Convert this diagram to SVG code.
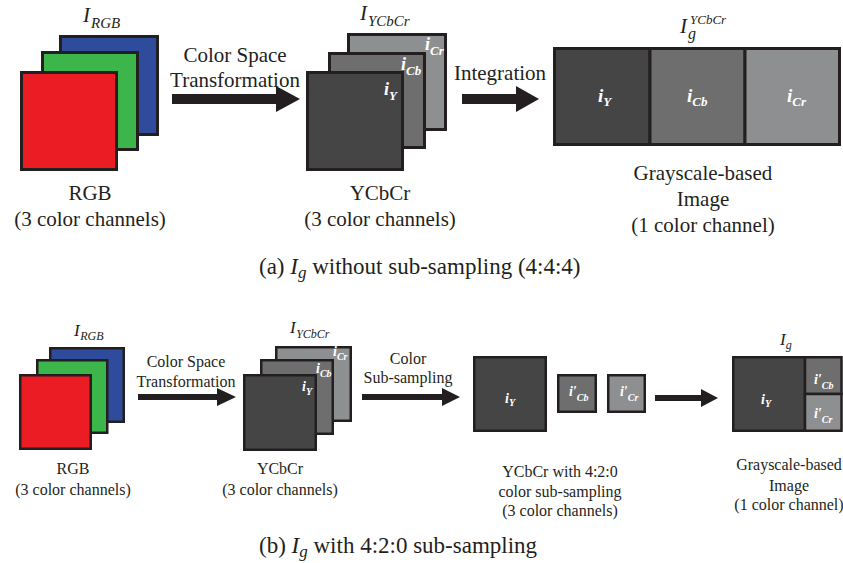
<svg xmlns="http://www.w3.org/2000/svg" width="843" height="563" viewBox="0 0 843 563" font-family="Liberation Serif, serif">
<style>
.k{stroke:#231f20;stroke-width:3}
.k2{stroke:#231f20;stroke-width:2.5}
.r{fill:#ec1c24}.g{fill:#3cb54a}.b{fill:#2e4b9c}
.d1{fill:#454546}.d2{fill:#6e6e6f}.d3{fill:#8e8f91}
.arr{fill:#231f20}
.lab{fill:#231f20;text-anchor:middle}
.mth{fill:#231f20;font-style:italic}
.wht{fill:#ffffff;font-style:italic;font-weight:bold}
.cap{fill:#231f20}
</style>

<!-- ===== (a) ===== -->
<g id="rgb-a">
  <rect class="k b" x="60.5" y="36.5" width="97" height="98"/>
  <rect class="k g" x="42.5" y="52.5" width="95" height="97"/>
  <rect class="k r" x="21.5" y="72.5" width="95" height="97"/>
  <text class="mth" x="83" y="22" font-size="21">I<tspan font-size="15" dx="1" dy="6">RGB</tspan></text>
  <text class="lab" x="90" y="200" font-size="21">RGB</text>
  <text class="lab" x="90" y="226" font-size="21">(3 color channels)</text>
</g>

<g id="ycbcr-a">
  <rect class="k d3" x="348.5" y="34.5" width="97" height="95"/>
  <rect class="k d2" x="329.5" y="53.5" width="95" height="94"/>
  <rect class="k d1" x="307.5" y="72.5" width="95" height="97"/>
  <text class="wht" x="425" y="50" font-size="18">i<tspan font-size="13" dy="5">Cr</tspan></text>
  <text class="wht" x="401" y="70" font-size="18">i<tspan font-size="13" dy="5">Cb</tspan></text>
  <text class="wht" x="384" y="95" font-size="18">i<tspan font-size="13" dy="5">Y</tspan></text>
  <text class="mth" x="360" y="20" font-size="21">I<tspan font-size="15" dx="1" dy="6">YCbCr</tspan></text>
  <text class="lab" x="380" y="200" font-size="21">YCbCr</text>
  <text class="lab" x="380" y="226" font-size="21">(3 color channels)</text>
</g>

<g id="gray-a">
  <rect class="k d1" x="554.5" y="48.5" width="95.5" height="96"/>
  <rect class="k d2" x="650" y="48.5" width="95" height="96"/>
  <rect class="k d3" x="745" y="48.5" width="94.5" height="96"/>
  <text class="wht" x="598" y="102" font-size="19">i<tspan font-size="13" dy="4">Y</tspan></text>
  <text class="wht" x="687" y="102" font-size="19">i<tspan font-size="13" dy="4">Cb</tspan></text>
  <text class="wht" x="787" y="102" font-size="19">i<tspan font-size="13" dy="4">Cr</tspan></text>
  <text class="mth" x="680" y="33" font-size="21">I</text>
  <text class="mth" x="688" y="39" font-size="16">g</text>
  <text class="mth" x="690" y="24" font-size="13">YCbCr</text>
  <text class="lab" x="703" y="180" font-size="21">Grayscale-based</text>
  <text class="lab" x="703" y="206" font-size="21">Image</text>
  <text class="lab" x="703" y="232" font-size="21">(1 color channel)</text>
</g>

<g id="labels-a">
  <text class="lab" x="235" y="62" font-size="21">Color Space</text>
  <text class="lab" x="235" y="87" font-size="21">Transformation</text>
  <text class="lab" x="500" y="80" font-size="21">Integration</text>
</g>

<g id="caption-a">
  <text class="cap" x="259" y="274" font-size="23">(a) <tspan font-style="italic">I</tspan><tspan font-style="italic" font-size="17" dy="4">g</tspan><tspan dy="-4"> without sub-sampling (4:4:4)</tspan></text>
</g>

<!-- ===== (b) ===== -->
<g id="rgb-b">
  <rect class="k2 b" x="50.25" y="348.25" width="73.5" height="73.5"/>
  <rect class="k2 g" x="37.25" y="360.25" width="70" height="72.5"/>
  <rect class="k2 r" x="20.25" y="375.25" width="70.5" height="73.5"/>
  <text class="mth" x="74" y="336" font-size="17">I<tspan font-size="12" dx="0.5" dy="4">RGB</tspan></text>
  <text class="lab" x="73" y="474" font-size="16">RGB</text>
  <text class="lab" x="73" y="495" font-size="16">(3 color channels)</text>
</g>

<g id="ycbcr-b">
  <rect class="k2 d3" x="276.25" y="347.25" width="74.5" height="73.5"/>
  <rect class="k2 d2" x="261.25" y="360.25" width="71.5" height="73.5"/>
  <rect class="k2 d1" x="244.25" y="375.25" width="71.5" height="74.5"/>
  <text class="mth" x="290" y="333" font-size="17">I<tspan font-size="12" dx="0.5" dy="5">YCbCr</tspan></text>
  <text class="wht" x="333" y="356" font-size="14" font-weight="normal">i<tspan font-size="10" dy="4">Cr</tspan></text>
  <text class="wht" x="316" y="373" font-size="14" font-weight="normal">i<tspan font-size="10" dy="4">Cb</tspan></text>
  <text class="wht" x="302" y="391" font-size="14" font-weight="normal">i<tspan font-size="10" dy="4">Y</tspan></text>
  <text class="lab" x="280" y="474" font-size="16">YCbCr</text>
  <text class="lab" x="280" y="495" font-size="16">(3 color channels)</text>
</g>

<g id="subsampled-b">
  <rect class="k2 d1" x="474.25" y="357.25" width="71.5" height="73.5"/>
  <rect class="k2 d2" x="558.25" y="375.25" width="37.5" height="36.5"/>
  <rect class="k2 d3" x="608.25" y="375.25" width="36.5" height="36.5"/>
  <text class="wht" x="505" y="403" font-size="14">i<tspan font-size="10" dy="3">Y</tspan></text>
  <text class="wht" x="569" y="396" font-size="14">i′<tspan font-size="10" dy="5">Cb</tspan></text>
  <text class="wht" x="620" y="396" font-size="14">i′<tspan font-size="10" dy="5">Cr</tspan></text>
  <text class="lab" x="560" y="477" font-size="16">YCbCr with 4:2:0</text>
  <text class="lab" x="560" y="497" font-size="16">color sub-sampling</text>
  <text class="lab" x="560" y="516" font-size="16">(3 color channels)</text>
</g>

<g id="gray-b">
  <rect class="k2 d1" x="733.25" y="357.25" width="71.75" height="73.5"/>
  <rect class="k2 d2" x="805" y="357.25" width="36.5" height="36.75"/>
  <rect class="k2 d3" x="805" y="394" width="36.5" height="36.75"/>
  <text class="wht" x="761" y="404" font-size="14">i<tspan font-size="10" dy="3">Y</tspan></text>
  <text class="wht" x="814" y="384" font-size="14">i′<tspan font-size="10" dy="5">Cb</tspan></text>
  <text class="wht" x="814" y="418" font-size="14">i′<tspan font-size="10" dy="5">Cr</tspan></text>
  <text class="mth" x="780" y="345" font-size="17">I<tspan font-size="12" dy="4">g</tspan></text>
  <text class="lab" x="789" y="470" font-size="16">Grayscale-based</text>
  <text class="lab" x="789" y="491" font-size="16">Image</text>
  <text class="lab" x="789" y="510" font-size="16">(1 color channel)</text>
</g>

<g id="labels-b">
  <text class="lab" x="186" y="367" font-size="16">Color Space</text>
  <text class="lab" x="186" y="387" font-size="16">Transformation</text>
  <text class="lab" x="408" y="364" font-size="16">Color</text>
  <text class="lab" x="408" y="383" font-size="16">Sub-sampling</text>
</g>

<g id="caption-b">
  <text class="cap" x="259" y="553" font-size="23">(b) <tspan font-style="italic">I</tspan><tspan font-style="italic" font-size="17" dy="4">g</tspan><tspan dy="-4"> with 4:2:0 sub-sampling</tspan></text>
</g>

<!-- ===== connectors ===== -->
<g id="connectors">
  <polygon class="arr" points="172,94 276,94 276,86 300,99 276,112 276,104 172,104"/>
  <polygon class="arr" points="462,94 516,94 516,86 539,99 516,112 516,104 462,104"/>
  <polygon class="arr" points="138,394 217,394 217,388 236,397 217,406 217,400 138,400"/>
  <polygon class="arr" points="362,394 442,394 442,388 460,397 442,406 442,400 362,400"/>
  <polygon class="arr" points="655,395 701,395 701,389 718,398 701,407 701,401 655,401"/>
</g>
</svg>
